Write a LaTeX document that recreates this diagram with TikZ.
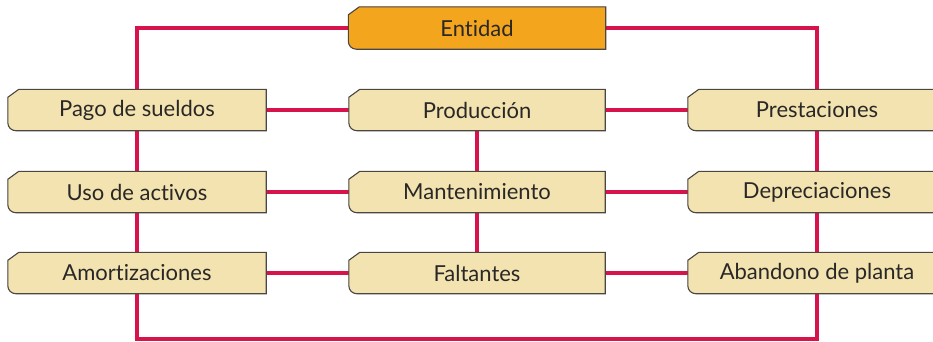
\documentclass[tikz,border=0pt]{standalone}
\usepackage{fontspec}
\setmainfont{Lato}[Ligatures={NoCommon}]
\usetikzlibrary{backgrounds}
\definecolor{linec}{HTML}{D6134B}
\definecolor{orangec}{HTML}{F4A51E}
\definecolor{beigec}{HTML}{F2E3B1}
\definecolor{borderc}{HTML}{4A4642}
\definecolor{shadowc}{HTML}{9A958C}
\definecolor{textc}{HTML}{2A2826}
\begin{document}
\begin{tikzpicture}[x=1pt,y=-1pt,
  bx/.style={minimum width=258pt, minimum height=41pt, inner sep=0pt,
    font=\fontsize{22}{26}\selectfont, text=textc},
  conn/.style={draw=linec, line width=3.6pt}]
\useasboundingbox (0,0) rectangle (933,341);
\clip (0,0) rectangle (933,341);
% nodes
\node[bx, minimum width=257pt, minimum height=42pt] (ent) at (477,28) {Entidad};
\node[bx] (pago) at (137,110) {Pago de sueldos};
\node[bx, minimum width=256pt] (prod) at (477,110) {Producción};
\node[bx] (prest) at (817,110) {Prestaciones};
\node[bx] (uso) at (137,192) {Uso de activos};
\node[bx, minimum width=256pt] (mant) at (477,192) {Mantenimiento};
\node[bx] (dep) at (817,192) {Depreciaciones};
\node[bx] (amort) at (137,273) {Amortizaciones};
\node[bx, minimum width=256pt] (falt) at (477,273) {Faltantes};
\node[bx] (aban) at (817,273) {Abandono de planta};
\coordinate (bot) at (477,339);
\begin{pgfonlayer}{background}
% connectors
\draw[conn] (ent.west) -| (pago.north);
\draw[conn] (ent.east) -| (prest.north);
\draw[conn] (pago.south) -- (uso.north);
\draw[conn] (uso.south) -- (amort.north);
\draw[conn] (amort.south) |- (bot) -| (aban.south);
\draw[conn] (prest.south) -- (dep.north);
\draw[conn] (dep.south) -- (aban.north);
\draw[conn] (prod.south) -- (mant.north);
\draw[conn] (mant.south) -- (falt.north);
\draw[conn] (pago) -- (prod);
\draw[conn] (prod) -- (prest);
\draw[conn] (uso) -- (mant);
\draw[conn] (mant) -- (dep);
\draw[conn] (amort) -- (falt);
\draw[conn] (falt) -- (aban);
% box shapes
\foreach \n/\c in {ent/orangec,pago/beigec,prod/beigec,prest/beigec,uso/beigec,mant/beigec,dep/beigec,amort/beigec,falt/beigec,aban/beigec}{
  \fill[shadowc, shift={(1.6,1.4)}]
    ([xshift=11pt]\n.north west) -- (\n.north east) -- (\n.south east)
    -- ([xshift=8pt]\n.south west) arc[start angle=270, end angle=180, radius=8pt]
    -- ([yshift=-8pt]\n.north west) -- cycle;
  \filldraw[fill=\c, draw=borderc, line width=1.1pt]
    ([xshift=11pt]\n.north west) -- (\n.north east) -- (\n.south east)
    -- ([xshift=8pt]\n.south west) arc[start angle=270, end angle=180, radius=8pt]
    -- ([yshift=-8pt]\n.north west) -- cycle;
}
\end{pgfonlayer}
\end{tikzpicture}
\end{document}
